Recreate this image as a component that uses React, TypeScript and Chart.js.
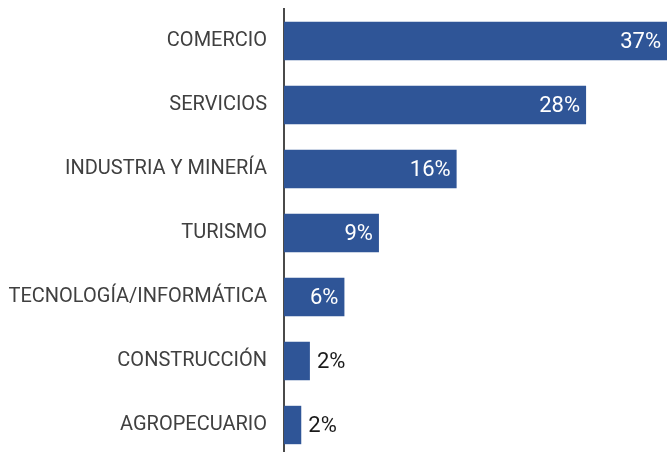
import React, { useEffect, useRef } from "react";
import { Chart, registerables } from "chart.js";

Chart.register(...registerables);

const categories = [
  "COMERCIO",
  "SERVICIOS",
  "INDUSTRIA Y MINERÍA",
  "TURISMO",
  "TECNOLOGÍA/INFORMÁTICA",
  "CONSTRUCCIÓN",
  "AGROPECUARIO",
];
const values = [37, 28, 16, 8.8, 5.6, 2.4, 1.6];
const valueLabels = ["37%", "28%", "16%", "9%", "6%", "2%", "2%"];

const BAR_COLOR = "#2F5597";
const FONT = "Roboto, 'Noto Sans', sans-serif";

const labelPlugin = {
  id: "valueLabels",
  afterDatasetsDraw(chart: any) {
    const ctx = chart.ctx;
    const meta = chart.getDatasetMeta(0);
    const area = chart.chartArea;
    ctx.save();
    ctx.font = `400 22px ${FONT}`;
    ctx.textBaseline = "middle";
    meta.data.forEach((bar: any, i: number) => {
      const v = values[i];
      const end = Math.min(bar.x, area.right);
      if (v >= 5) {
        ctx.fillStyle = "#ffffff";
        ctx.textAlign = "right";
        ctx.fillText(valueLabels[i], end - 6, bar.y + 1);
      } else {
        ctx.fillStyle = "#1a1a1a";
        ctx.textAlign = "left";
        ctx.fillText(valueLabels[i], end + 7, bar.y + 1);
      }
    });
    ctx.restore();
  },
};

export default function App() {
  const ref = useRef<HTMLCanvasElement>(null);
  useEffect(() => {
    if (!ref.current) return;
    const chart = new Chart(ref.current, {
      type: "bar",
      data: {
        labels: categories,
        datasets: [
          {
            data: values,
            backgroundColor: BAR_COLOR,
            borderWidth: 0,
            barPercentage: 0.6,
            categoryPercentage: 1,
          },
        ],
      },
      options: {
        indexAxis: "y",
        animation: false,
        responsive: false,
        maintainAspectRatio: false,
        layout: { padding: { top: 9, bottom: 3, left: 0, right: 0 } },
        plugins: {
          legend: { display: false },
          tooltip: { enabled: false },
          title: { display: false },
        },
        scales: {
          x: {
            display: false,
            min: 0,
            max: 35.5,
          },
          y: {
            afterFit(scale: any) {
              scale.width = 284;
              scale.paddingTop = 0;
              scale.paddingBottom = 0;
            },
            grid: { display: false, drawTicks: false },
            border: { display: true, color: "#4a4a4a", width: 2 },
            ticks: {
              padding: 17,
              color: "#404040",
              font: { family: FONT, size: 20, weight: "400" },
            },
          },
        },
      },
      plugins: [labelPlugin],
    } as any);
    return () => chart.destroy();
  }, []);
  return (
    <div
      style={{
        position: "fixed",
        left: 0,
        top: 0,
        width: 667,
        height: 452,
        overflow: "hidden",
        background: "#ffffff",
      }}
    >
      <canvas ref={ref} width={667} height={460} style={{ display: "block" }} />
    </div>
  );
}
